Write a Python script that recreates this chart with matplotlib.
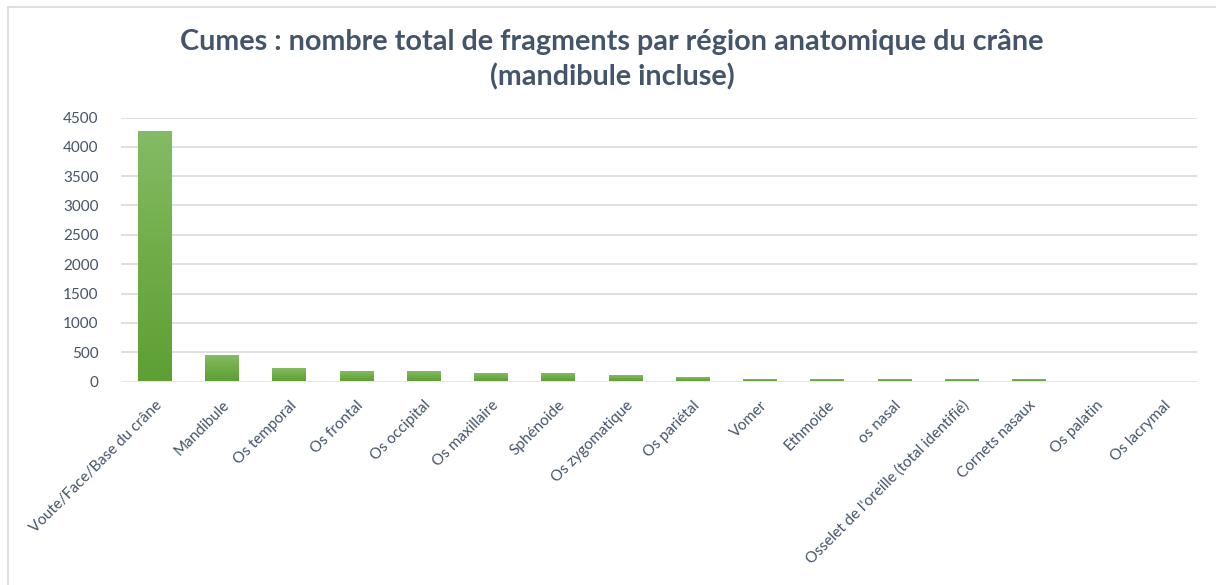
import numpy as np
import matplotlib.pyplot as plt
from matplotlib.lines import Line2D
from matplotlib.colors import LinearSegmentedColormap

regions = ["Voute/Face/Base du crâne", "Mandibule", "Os temporal", "Os frontal",
           "Os occipital", "Os maxillaire", "Sphénoide", "Os zygomatique",
           "Os pariétal", "Vomer", "Ethmoide", "os nasal",
           "Osselet de l'oreille (total identifié)", "Cornets nasaux",
           "Os palatin", "Os lacrymal"]
fragments = [4250, 435, 210, 160, 160, 130, 130, 95, 60, 25, 25, 25, 25, 25, 0, 0]
yticks = [0, 500, 1000, 1500, 2000, 2500, 3000, 3500, 4000, 4500]

text_col = "#44546A"
grid_col = "#D9D9D9"
green = LinearSegmentedColormap.from_list("green", ["#5E9F35", "#70AD47", "#84BB66"])

fig = plt.figure(figsize=(12.16, 5.85), dpi=100)
W, H = 1216, 585
ax = fig.add_axes([121 / W, 1 - 381.5 / H, (1197 - 121) / W, (381.5 - 117.5) / H])

x = np.arange(len(regions))
width = 0.5
bars = ax.bar(x, fragments, width=width, color="none", zorder=2)

# vertical gradient inside each bar
grad = np.linspace(0, 1, 256).reshape(-1, 1)
for b in bars:
    h = b.get_height()
    if h <= 0:
        continue
    x0 = b.get_x()
    ax.imshow(grad, cmap=green, origin="lower", aspect="auto",
              extent=(x0, x0 + b.get_width(), 0, h), zorder=2)

ax.set_xlim(-0.5, len(regions) - 0.5)
ax.set_ylim(0, 4500)
ax.set_yticks(yticks)
ax.set_yticklabels([str(v) for v in yticks], fontsize=11, color=text_col, family="Lato")
ax.yaxis.grid(True, color=grid_col, linewidth=1.2, zorder=0)
ax.set_axisbelow(True)
# baseline sits on top of the bars
ax.axhline(0, color="#E4E8EC", linewidth=1.3, zorder=4)
for s in ax.spines.values():
    s.set_visible(False)
ax.tick_params(axis="both", length=0)
ax.tick_params(axis="y", pad=16)

ax.set_xticks(x)
ax.set_xticklabels(regions, rotation=45, ha="right", va="top",
                   rotation_mode="anchor", fontsize=11, color=text_col, family="Lato")
ax.tick_params(axis="x", pad=12)

fig.text(612 / W, 1 - 42 / H, "Cumes : nombre total de fragments par région anatomique du crâne",
         ha="center", va="center", fontsize=20.7, fontweight="bold", color=text_col, family="Lato")
fig.text(612 / W, 1 - 77 / H, "(mandibule incluse)",
         ha="center", va="center", fontsize=20.7, fontweight="bold", color=text_col, family="Lato")

# chart frame
fig.add_artist(Line2D([8 / W, 1], [1 - 7 / H, 1 - 7 / H], color="#D9D9D9", linewidth=1.2))
fig.add_artist(Line2D([8 / W, 8 / W], [0, 1 - 7 / H], color="#D9D9D9", linewidth=1.2))

fig.savefig("out.png", dpi=100)
